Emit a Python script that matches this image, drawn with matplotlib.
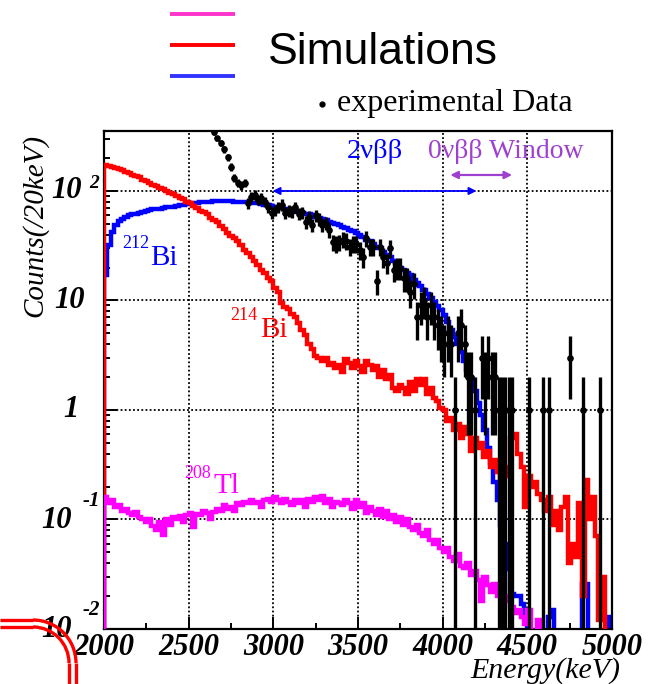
import numpy as np
import matplotlib.pyplot as plt
from matplotlib.patches import Arc

# ---- data: 20 keV bins from 2000 to 5000 keV ----
E_LO, E_HI, BIN = 2000, 5000, 20

bi212 = [17, 32, 42, 49, 53, 56, 58, 60, 61, 62,
         63, 64, 65, 67, 68, 68, 69, 70, 71, 71,
         72, 73, 74, 75, 76, 77, 77, 78, 79, 79,
         80, 80, 81, 81, 81, 81, 81, 81, 80, 80,
         80, 79, 79, 78, 77, 77, 76, 75, 74, 73,
         72, 71, 70, 69, 68, 67, 66, 64, 63, 62,
         61, 60, 58, 57, 55, 54, 52, 51, 50, 49,
         47, 46, 44, 43, 41, 40, 38, 36, 35, 33,
         31, 30, 28, 26, 25, 23, 22, 20, 19, 18,
         17, 15.5, 14.5, 13.5, 12.5, 11.5, 10.5, 9.7, 8.9, 8.2,
         7.3, 6.3, 5.4, 4.6, 4.0, 3.4, 2.8, 2.3, 1.9, 1.5,
         1.15, 0.9, 0.65, 0.45, 0.33, 0.22, 0.15, 0.09, 0.06, 0.035,
         0.021, 0.02, 0.02, 0.017, 0.013, 0, 0, 0, 0, 0,
         0, 0.013, 0.015, 0, 0, 0, 0, 0, 0, 0,
         0, 0.026, 0.026, 0, 0, 0, 0, 0, 0, 0.013]

bi214 = [172, 168, 166, 161, 160, 154, 150, 147, 141, 136,
         133, 127, 123, 119, 114, 111, 106, 104, 99, 96,
         93, 90, 86, 84, 80, 77, 73, 70, 66, 64,
         61, 57, 54, 52, 48, 45, 41, 39, 37, 35,
         32, 29, 27, 25, 23, 21, 19, 18, 16, 15,
         13, 12, 9.5, 8.7, 8.3, 7.5, 7.0, 6.2, 5.4, 4.8,
         4.0, 3.6, 3.1, 3.0, 2.8, 3.0, 2.6, 2.7, 2.4, 2.6,
         2.2, 2.9, 2.7, 2.4, 2.8, 2.5, 2.2, 2.8, 2.6, 2.3,
         2.5, 2.0, 2.3, 1.9, 2.1, 1.6, 1.5, 1.7, 1.6, 1.4,
         1.8, 1.5, 1.9, 1.7, 1.9, 1.4, 1.6, 1.3, 1.2, 1.05,
         1.0, 0.8, 0.85, 0.65, 0.75, 0.55, 0.7, 0.6, 0.42, 0.55,
         0.45, 0.5, 0.37, 0.42, 0.3, 0.35, 0.27, 0.22, 0.3, 0.25,
         0.55, 0.6, 0.4, 0.3, 0.13, 0.25, 0.2, 0.22, 0.17, 0.15,
         0.12, 0.16, 0.09, 0.12, 0.08, 0.13, 0.16, 0.04, 0.06, 0.045,
         0.14, 0.02, 0.23, 0.1, 0.16, 0.07, 0.012, 0.03, 0, 0]

tl208 = [0.16, 0.14, 0.15, 0.13, 0.135, 0.12, 0.125, 0.115, 0.11, 0.118,
         0.105, 0.1, 0.095, 0.1, 0.088, 0.08, 0.095, 0.072, 0.1, 0.09,
         0.105, 0.1, 0.108, 0.095, 0.11, 0.115, 0.085, 0.112, 0.11, 0.12,
         0.115, 0.1, 0.118, 0.125, 0.12, 0.135, 0.125, 0.13, 0.12, 0.14,
         0.135, 0.145, 0.14, 0.15, 0.14, 0.145, 0.13, 0.15, 0.155, 0.145,
         0.16, 0.15, 0.14, 0.155, 0.145, 0.135, 0.15, 0.14, 0.15, 0.13,
         0.155, 0.145, 0.16, 0.15, 0.165, 0.14, 0.155, 0.13, 0.145, 0.14,
         0.135, 0.15, 0.14, 0.125, 0.15, 0.13, 0.14, 0.115, 0.13, 0.12,
         0.11, 0.125, 0.105, 0.12, 0.1, 0.11, 0.095, 0.105, 0.09, 0.1,
         0.085, 0.08, 0.09, 0.075, 0.07, 0.08, 0.065, 0.06, 0.065, 0.055,
         0.05, 0.055, 0.045, 0.042, 0.048, 0.038, 0.036, 0.04, 0.031, 0.034,
         0.028, 0.018, 0.03, 0.025, 0.022, 0.026, 0.02, 0.024, 0.018, 0.02,
         0.016, 0.014, 0.015, 0.013, 0.011, 0.015, 0, 0, 0.012, 0,
         0, 0, 0, 0, 0, 0, 0, 0, 0, 0,
         0, 0, 0, 0, 0, 0, 0, 0, 0, 0]

# experimental counts, bins centred 2650 .. 4990 keV
DATA_FIRST = 2650
data_counts = [346, 303, 275, 240, 204, 166, 131, 119, 113, 119,
               78, 88, 92, 83, 86, 80, 71, 63, 67, 71,
               75, 63, 66, 65, 71, 62, 64, 52, 58, 49,
               60, 55, 49, 51, 44, 34, 33, 34, 36, 35,
               31, 33, 33, 29, 25, 37, 31, 31, 15, 31,
               25, 22, 30, 19, 20, 20, 16, 16, 12, 14,
               7, 9, 10, 7, 9, 7, 6, 5, 4, 5,
               4, 1, 5, 6, 4, 2, 2, 1, 0, 3,
               2, 3, 2, 2, 1, 1, 1, 1, 1, 0,
               0, 0, 0, 1, 0, 0, 0, 1, 0, 1,
               0, 0, 0, 0, 0, 3, 0, 0, 0, 1,
               0, 0, 0, 0, 1, 0, 0, 0]

xticks = [2000, 2500, 3000, 3500, 4000, 4500, 5000]

BLUE = "#0000FF"
RED = "#FF0000"
MAGENTA = "#FF00FF"
PURPLE = "#A040D0"
SERIF = "Liberation Serif"

W, H = 652, 684
fig = plt.figure(figsize=(W / 100, H / 100), dpi=100)
ax = fig.add_axes([104 / W, 1 - 629 / H, 508 / W, 498 / H])
ax.set_yscale("log")

edges = np.arange(E_LO, E_HI + BIN, BIN)
floor = 1e-5
ax.stairs(np.clip(bi212, floor, None), edges, baseline=floor, color=BLUE, lw=3.2, zorder=2)
ax.stairs(np.clip(bi214, floor, None), edges, baseline=floor, color=RED, lw=3.2, zorder=3)
ax.stairs(np.clip(tl208, floor, None), edges, baseline=floor, color=MAGENTA, lw=3.2, zorder=4)

counts = np.array(data_counts, dtype=float)
centres = DATA_FIRST + BIN * np.arange(len(counts))
keep = counts > 0
n = counts[keep]
err = np.sqrt(n)
lower = np.minimum(err, n - 1e-5)
ax.errorbar(centres[keep], n, yerr=[lower, err], xerr=BIN / 2, fmt="o", ms=3.8,
            color="black", ecolor="black", elinewidth=2.4, capsize=0, zorder=5)

ax.set_xlim(E_LO, E_HI)
ax.set_ylim(0.01, 353)

# grid + ticks
ax.set_xticks(xticks)
ax.set_xticks(np.arange(2250, 5000, 500), minor=True)
ax.set_xticklabels([str(t) for t in xticks], fontfamily=SERIF, fontstyle="italic",
                   fontweight="bold", fontsize=22)
ax.set_yticks([0.01, 0.1, 1, 10, 100])
ax.set_yticklabels([])
ax.tick_params(which="both", direction="in", left=True, bottom=True, top=False, right=False,
               width=1.4, color="black")
ax.tick_params(which="major", length=9, pad=3)
ax.tick_params(which="minor", length=4.5)
ax.grid(True, which="major", color="black", linestyle=(0, (1, 1.3)), lw=1.3)
for s in ax.spines.values():
    s.set_linewidth(1.6)

# y tick labels in ROOT style
yt = ax.get_yaxis_transform()
tk = dict(fontfamily=SERIF, fontstyle="italic", fontweight="bold", transform=yt, va="center")
ax.text(-0.05, 1, "1", ha="right", fontsize=22, **tk)
ax.text(-0.037, 10, "10", ha="right", fontsize=22, **tk)
ax.text(-0.043, 100, "10", ha="right", fontsize=22, **tk)
ax.text(-0.03, 116, "2", ha="left", fontsize=14, **tk)
ax.text(-0.063, 0.097, "10", ha="right", fontsize=22, **tk)
ax.text(-0.008, 0.148, "-1", ha="right", fontsize=15, **tk)
ax.text(-0.063, 0.0099, "10", ha="right", fontsize=22, **tk)
ax.text(-0.008, 0.0149, "-2", ha="right", fontsize=15, **tk)


def isotope(x_sup, y_sup, x_sym, y_sym, mass, sym, color):
    ax.text(x_sup, y_sup, mass, color=color, fontfamily=SERIF, fontsize=13, va="baseline")
    ax.text(x_sym, y_sym, sym, color=color, fontfamily=SERIF, fontsize=21, va="baseline")


isotope(2106, 30, 2272, 21, "212", "Bi", BLUE)
isotope(2744, 6.6, 2921, 4.6, "214", "Bi", RED)
isotope(2472, 0.239, 2644, 0.174, "208", "Tl", MAGENTA)

# energy windows
ax.text(3435, 200, "2νββ", color=BLUE, fontfamily=SERIF, fontsize=20.5, va="baseline")
ax.text(3913, 200, "0νββ Window", color=PURPLE, fontfamily=SERIF, fontsize=20, va="baseline")
ax.annotate("", xy=(4200, 100), xytext=(2995, 100),
            arrowprops=dict(arrowstyle="<|-|>", color=BLUE, lw=1.3, mutation_scale=11,
                            shrinkA=0, shrinkB=0), zorder=6)
ax.annotate("", xy=(4410, 140), xytext=(4045, 140),
            arrowprops=dict(arrowstyle="<|-|>", color=PURPLE, lw=1.6, mutation_scale=11,
                            shrinkA=0, shrinkB=0), zorder=6)

# axis titles
fig.text(35 / W, 1 - 225 / H, "Counts(/20keV)", rotation=90, ha="center", va="center",
         fontfamily=SERIF, fontstyle="italic", fontsize=21)
fig.text(620 / W, 1 - 671 / H, "Energy(keV)", ha="right", va="center",
         fontfamily=SERIF, fontstyle="italic", fontsize=21.5)

# overlay in pixel coordinates for legend and slide decoration
ov = fig.add_axes([0, 0, 1, 1], zorder=10)
ov.set_xlim(0, W)
ov.set_ylim(H, 0)
ov.axis("off")

for yy, c in [(14, "#FF33CC"), (45, RED), (76, "#3333FF")]:
    ov.plot([170, 235], [yy, yy], color=c, lw=2.8, solid_capstyle="butt")
ov.text(268, 52, "Simulations", fontfamily="Liberation Sans", fontsize=32, va="center")
ov.plot([322], [104], "o", color="black", ms=3.5)
ov.text(337, 104, "experimental Data", fontfamily=SERIF, fontsize=23, va="center")

# red rounded corner at bottom left (y axis inverted here)
for r in (43, 36):
    ov.plot([0, 33], [663 - r, 663 - r], color=RED, lw=2.4, solid_capstyle="butt")
    ov.plot([33 + r, 33 + r], [663, H], color=RED, lw=2.4, solid_capstyle="butt")
    ov.add_patch(Arc((33, 663), 2 * r, 2 * r, theta1=270, theta2=360, color=RED, lw=2.4))

fig.savefig("out.png", dpi=100)
